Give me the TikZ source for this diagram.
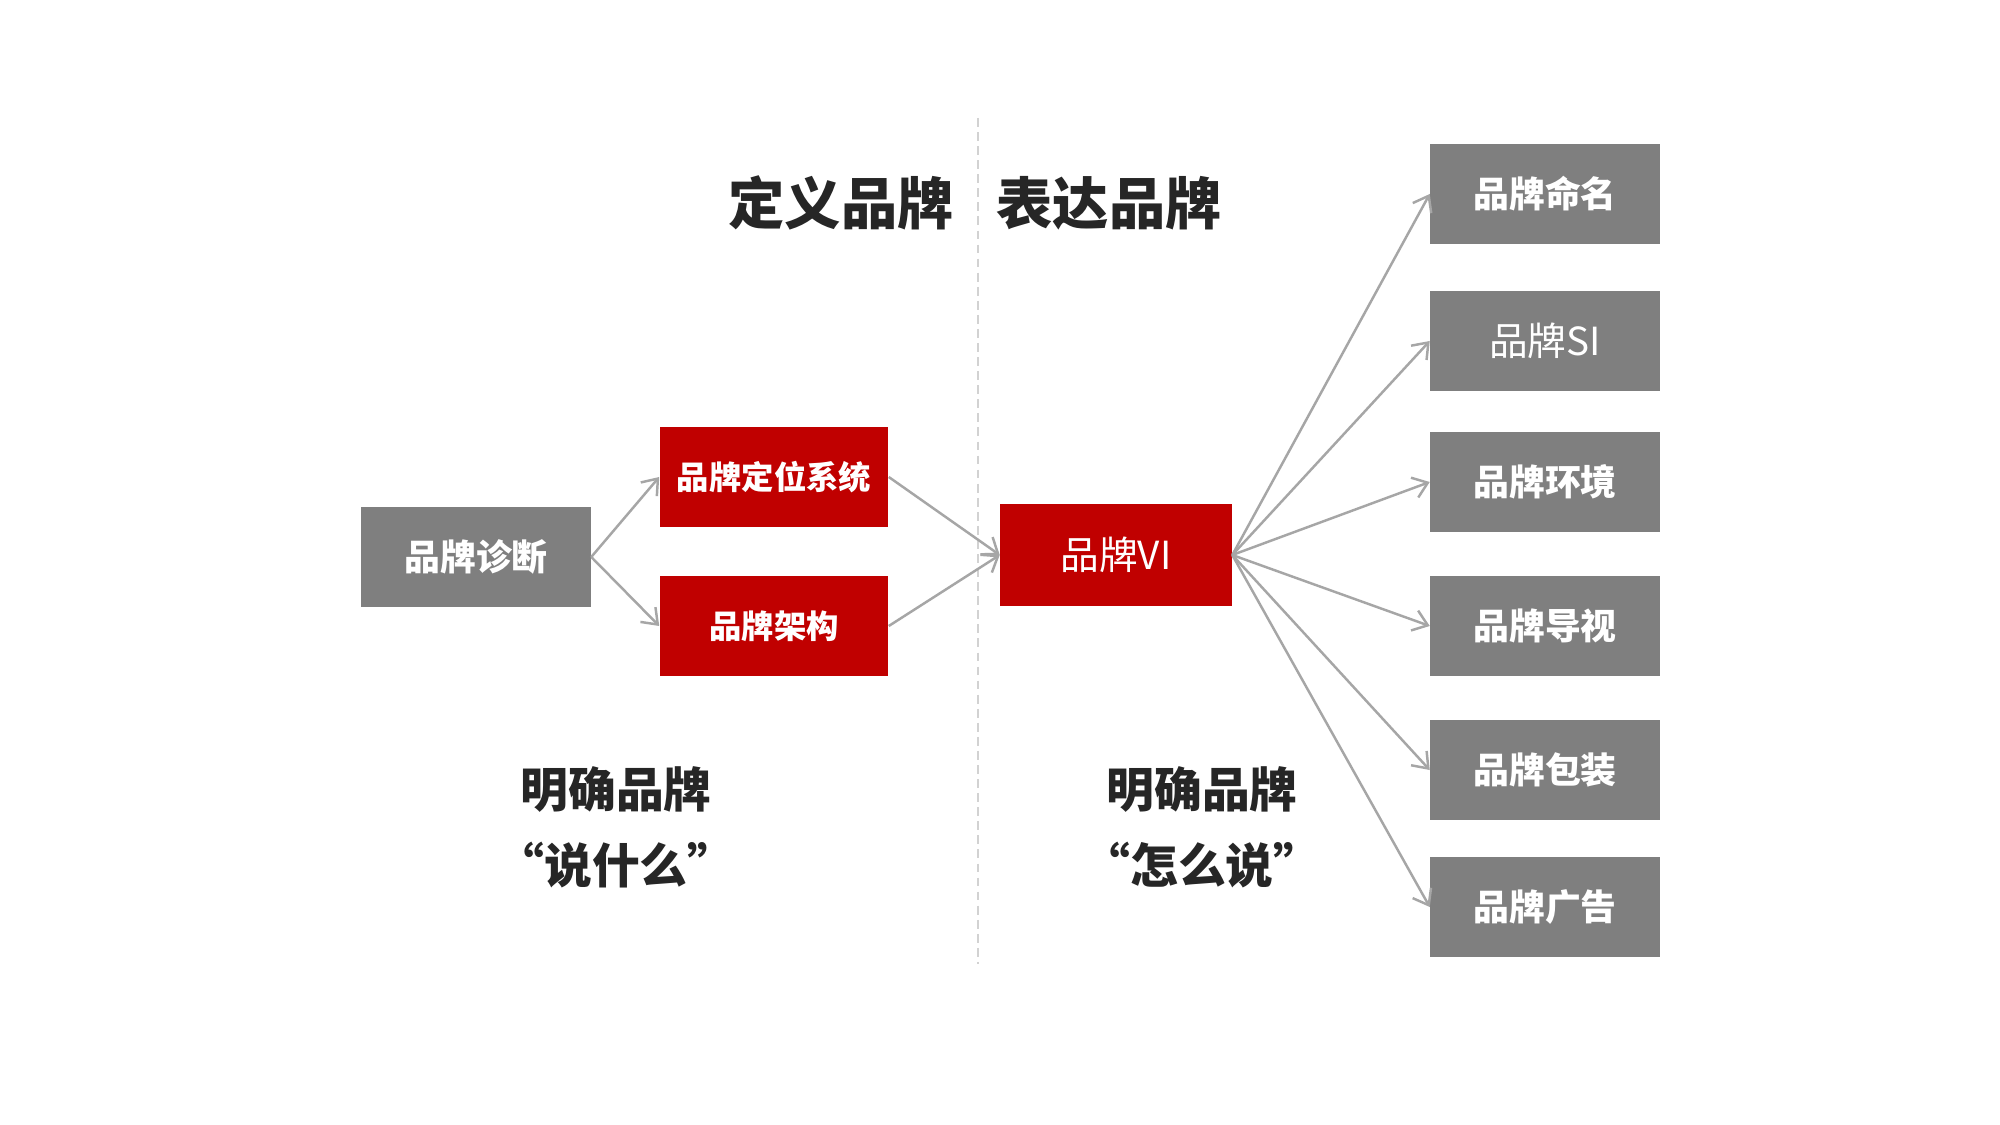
\documentclass[tikz,border=0pt]{standalone}
\usepackage{fontspec}
\setmainfont{Noto Sans CJK SC}
\newfontfamily\cjk{Noto Sans CJK SC}
\usetikzlibrary{arrows.meta}
\definecolor{brandred}{HTML}{C00000}
\definecolor{boxgray}{HTML}{7F7F7F}
\definecolor{linegray}{HTML}{A6A6A6}
\tikzset{
  graybox/.style={fill=boxgray, draw=none, minimum width=2.29cm, minimum height=1.0cm, inner sep=0pt, text=white, font=\cjk\bfseries\fontsize{10.2pt}{12pt}\selectfont},
  redbox/.style={fill=brandred, draw=none, minimum width=2.28cm, minimum height=1.0cm, inner sep=0pt, text=white, font=\cjk\bfseries\fontsize{9.2pt}{11pt}\selectfont},
  conn/.style={draw=linegray, line width=0.7pt, -{Straight Barb[length=4pt,width=6pt]}},
  title/.style={font=\cjk\bfseries\fontsize{16pt}{19pt}\selectfont, text=black!85},
  sub/.style={font=\cjk\bfseries\fontsize{13.6pt}{21.6pt}\selectfont, text=black!85, align=center},
}
\begin{document}
\begin{tikzpicture}[x=0.01cm,y=-0.01cm]
\useasboundingbox (0,0) rectangle (2000,1125);
\fill[white] (0,0) rectangle (2000,1125);
% divider
\coordinate (dtop) at (978,118);
\coordinate (dbot) at (978,964);
\draw[gray!35, line width=0.6pt, dash pattern=on 2.5pt off 1.5pt] (dtop) -- (dbot);
% titles
\node[title] (t1) at (841,203) {定义品牌};
\node[title] (t2) at (1109,203) {表达品牌};
% left
\node[graybox] (diag) at (476,557) {品牌诊断};
\node[redbox] (pos) at (774,477) {品牌定位系统};
\node[redbox] (arch) at (774,626) {品牌架构};
\node[redbox, minimum width=2.31cm, minimum height=1.02cm, font=\cjk\fontsize{11pt}{13pt}\selectfont] (vi) at (1116,555) {品牌VI};
% right
\node[graybox] (r1) at (1545,194) {品牌命名};
\node[graybox, font=\cjk\fontsize{11pt}{13pt}\selectfont] (r2) at (1545,341) {品牌SI};
\node[graybox] (r3) at (1545,482) {品牌环境};
\node[graybox] (r4) at (1545,626) {品牌导视};
\node[graybox] (r5) at (1545,770) {品牌包装};
\node[graybox] (r6) at (1545,907) {品牌广告};
% bottom texts
\node[sub] (s1) at (616,827) {明确品牌\\“说什么”};
\node[sub] (s2) at (1202,827) {明确品牌\\“怎么说”};
% connectors
\draw[conn] (diag.east) -- (pos.west);
\draw[conn] (diag.east) -- (arch.west);
\draw[conn] (pos.east) -- (vi.west);
\draw[conn] (arch.east) -- (vi.west);
\foreach \r in {r1,r2,r3,r4,r5,r6}{
  \draw[conn] (vi.east) -- (\r.west);
}
\end{tikzpicture}
\end{document}
